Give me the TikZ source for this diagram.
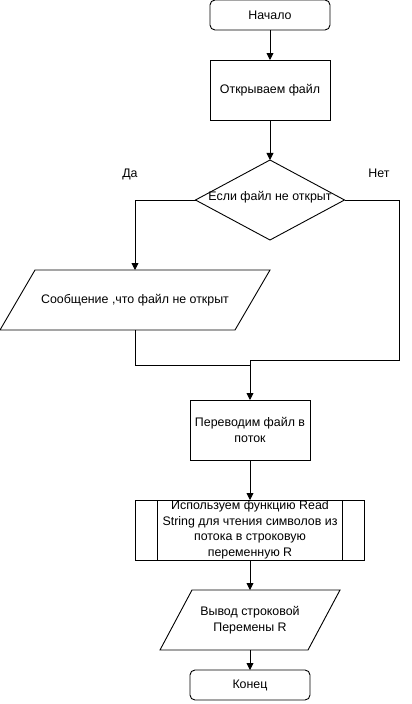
\documentclass[tikz,border=0pt]{standalone}
\usepackage{fontspec}
\setmainfont{Liberation Sans}
\usetikzlibrary{arrows.meta, positioning, shapes.geometric}

% параллелограмм ввода/вывода по рамке узла
\newcommand{\slantframe}[2]{\draw[plain_line] ([xshift=#2]#1.north west) -- (#1.north east) -- ([xshift=-#2]#1.south east) -- (#1.south west) -- cycle;}

\begin{document}
\begin{tikzpicture}[
	x=1pt, y=1pt,
	node distance=30pt,
	font=\fontsize{12.4}{15.5}\selectfont,
	every node/.style={line width=0.9pt, align=center, outer sep=0pt},
	terminal/.style={draw, rounded corners=5pt, minimum width=120pt, minimum height=30pt},
	process/.style={draw, minimum width=120pt, minimum height=60pt},
	decision/.style={draw, diamond, inner sep=0pt, minimum width=149pt, minimum height=80pt},
	io_box/.style={inner sep=0pt, minimum height=60pt},
	subproc/.style={draw, minimum width=229pt, minimum height=60pt, inner sep=0pt},
	branch_label/.style={inner sep=0pt},
	arrow_line/.style={line width=0.9pt, -{Triangle[length=7pt, width=7pt]}},
	plain_line/.style={line width=0.9pt, line join=miter}
	]
	\useasboundingbox (0,0) rectangle (412,-704);
	
	% --- БЛОКИ ---
	\node[terminal] (start) at (270,-15) {Начало};
	\node[process] (open) [below=of start] {Открываем файл};
	\node[decision, label={[yshift=3pt]center:Если файл не открыт}] (cond) [below=40pt of open] {};
	\node[io_box, minimum width=270pt] (msg) [below=30pt of cond, xshift=-135pt] {Сообщение ,что файл не открыт};
	\node[process] (conv) [below=160pt of cond, xshift=-20pt] {Переводим файл в\\поток};
	\node[subproc, label={center:Используем функцию Read\\String для чтения символов из\\потока в строковую\\переменную R}] (read) [below=40pt of conv] {};
	\node[io_box, minimum width=180pt] (out) [below=30pt of read] {Вывод строковой\\Перемены R};
	\node[terminal] (stop) [below=20pt of out] {Конец};
	\slantframe{msg}{35pt}
	\slantframe{out}{32pt}
	
	% --- подписи ветвей ---
	\node[branch_label] (yes) at ([xshift=-140pt, yshift=26pt]cond.center) {Да};
	\node[branch_label] (no) at ([xshift=109pt, yshift=27pt]cond.center) {Нет};
	
	% --- боковые линии подпроцесса ---
	\draw[plain_line] ([xshift=22pt]read.north west) -- ([xshift=22pt]read.south west);
	\draw[plain_line] ([xshift=-22pt]read.north east) -- ([xshift=-22pt]read.south east);
	
	% --- СВЯЗИ ---
	\coordinate (join) at ([yshift=40pt]conv.north);
	\coordinate (no_turn) at ([xshift=55pt]cond.east);
	\draw[arrow_line] (start) -- (open);
	\draw[arrow_line] (open) -- (cond);
	\draw[arrow_line] (cond.west) -| (msg.north);
	\draw[plain_line] (msg.south) |- ([yshift=-5pt]join);
	\draw[arrow_line] (cond.east) -- (no_turn) |- (join) -- (conv);
	\draw[arrow_line] (conv) -- (read);
	\draw[arrow_line] (read) -- (out);
	\draw[arrow_line] (out) -- (stop);
	
\end{tikzpicture}
\end{document}
